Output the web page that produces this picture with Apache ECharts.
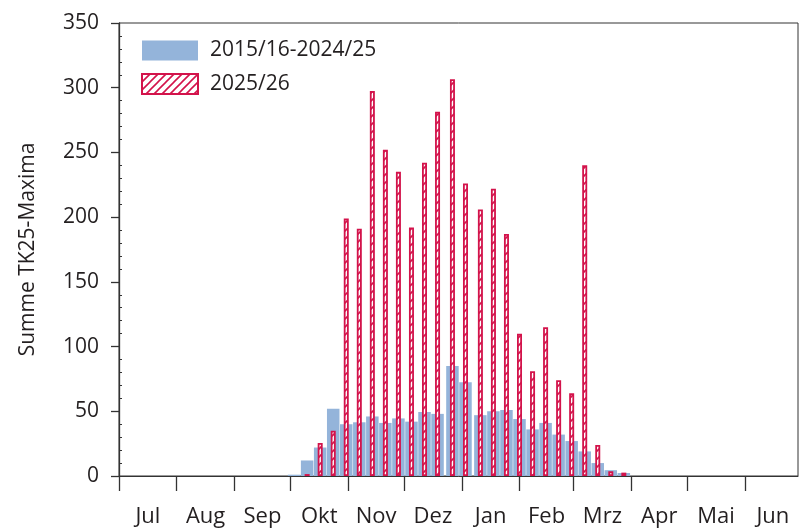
<!DOCTYPE html>
<html>
<head>
<meta charset="utf-8">
<script src="https://cdn.jsdelivr.net/npm/echarts@6/dist/echarts.min.js"></script>
<style>
html,body{margin:0;padding:0;background:#fff;}
#chart{width:799px;height:529px;}
</style>
</head>
<body>
<div id="chart"></div>
<script>
// Month names and first day of each month (days since 1 July, leap-year calendar)
const months = ['Jul','Aug','Sep','Okt','Nov','Dez','Jan','Feb','Mrz','Apr','Mai','Jun'];
const monthStartDay = [0,31,62,92,123,153,184,215,244,275,305,336];
const seasonEndDay = 364.5;

// Mid-day of each weekly bin (days since 1 July)
const weekMidDay = [94,101,108,115,122,129,136,143,150,157,164,171,179,186,194,201,208,215,222,229,236,243,250,257,264,271];

// Sum of TK25 maxima per week
const seriesRefName = '2015/16-2024/25';
const seriesRef = [1,12,22,52,40,41.5,46,41,44.5,42,49.5,48,85,72.5,47,50,51,44,36,41,32,27,19,10,4.5,2.3];
const seriesCurName = '2025/26';
const seriesCur = [null,1.5,25.5,35,199,191,297.5,252,235,192,242,281.5,306.5,226,206,222,187,110,81,115,74,64,240,24,3.6,2.6];

const yTicks = {min:0, max:350, interval:50};

const FONT = 'Open Sans';
const TXT = '#231f20';
const AX = '#333333';
const BLUE = '#94b4da';
const RED = '#d3134b';

// hatch pattern
function makeHatch(){
  const c = document.createElement('canvas');
  c.width = 8; c.height = 8;
  const g = c.getContext('2d');
  g.fillStyle = '#ffffff';
  g.fillRect(0,0,8,8);
  g.strokeStyle = RED;
  g.lineWidth = 1.6;
  g.beginPath();
  g.moveTo(-1,9); g.lineTo(9,-1);
  g.moveTo(-1,1); g.lineTo(1,-1);
  g.moveTo(7,9); g.lineTo(9,7);
  g.stroke();
  return c;
}

const monthMid = monthStartDay.map((d,i)=> (d + (i<monthStartDay.length-1 ? monthStartDay[i+1] : 366))/2);

const refData = weekMidDay.map((d,i)=>[d, seriesRef[i]]);
const curData = weekMidDay.map((d,i)=> seriesCur[i]==null ? null : [d, seriesCur[i]]).filter(x=>x);

const chart = echarts.init(document.getElementById('chart'), null, {renderer:'canvas'});
const xBase = {
  type:'value', min:0, max:seasonEndDay,
  splitLine:{show:false}
};
chart.setOption({
  animation:false,
  backgroundColor:'#ffffff',
  textStyle:{fontFamily:FONT},
  grid:{left:119, right:1, top:23, bottom:53, show:true, borderColor:AX, borderWidth:1, backgroundColor:'transparent'},
  legend:{
    orient:'vertical', left:136, top:35, itemWidth:56, itemHeight:20, itemGap:12,
    icon:'rect',
    textStyle:{fontFamily:FONT, fontSize:21, color:TXT, padding:[0,0,0,7]},
    data:[seriesRefName, seriesCurName]
  },
  xAxis:[
    Object.assign({}, xBase, {
      position:'bottom',
      axisLine:{show:true, onZero:false, lineStyle:{color:AX, width:1}},
      axisTick:{show:true, length:15, lineStyle:{color:AX, width:1.3}, customValues: monthStartDay},
      axisLabel:{show:true, fontFamily:FONT, fontSize:22, color:TXT, margin:30,
        customValues: monthMid,
        formatter:function(v){ const i = monthMid.indexOf(v); return i>=0 ? months[i] : ''; }}
    }),
    Object.assign({}, xBase, {show:false})
  ],
  yAxis:[
    {
      type:'value', min:yTicks.min, max:yTicks.max, interval:yTicks.interval,
      name:'Summe TK25-Maxima', nameLocation:'middle', nameGap:80,
      nameTextStyle:{fontFamily:FONT, fontSize:21, color:TXT},
      axisLine:{show:true, lineStyle:{color:AX, width:1.3}},
      axisTick:{show:true, length:8, lineStyle:{color:AX, width:1.3}},
      axisLabel:{fontFamily:FONT, fontSize:21, color:TXT, margin:20},
      splitLine:{show:false}
    },
    {
      type:'value', min:yTicks.min, max:yTicks.max, interval:yTicks.interval, position:'left', offset:0,
      axisLine:{show:false},
      axisTick:{show:false, inside:true},
      minorTick:{show:true, splitNumber:5, length:3, lineStyle:{color:AX, width:1}},
      axisLabel:{show:false},
      splitLine:{show:false}
    }
  ],
  series:[
    {
      name:seriesRefName, type:'bar', xAxisIndex:0, yAxisIndex:0,
      barWidth:12.5, z:2,
      itemStyle:{color:BLUE},
      data:refData
    },
    {
      name:seriesCurName, type:'bar', xAxisIndex:1, yAxisIndex:0,
      barWidth:5, z:3,
      itemStyle:{color:{image:makeHatch(), repeat:'repeat'}, borderColor:RED, borderWidth:1.8},
      data:curData
    }
  ]
});
</script>
</body>
</html>
